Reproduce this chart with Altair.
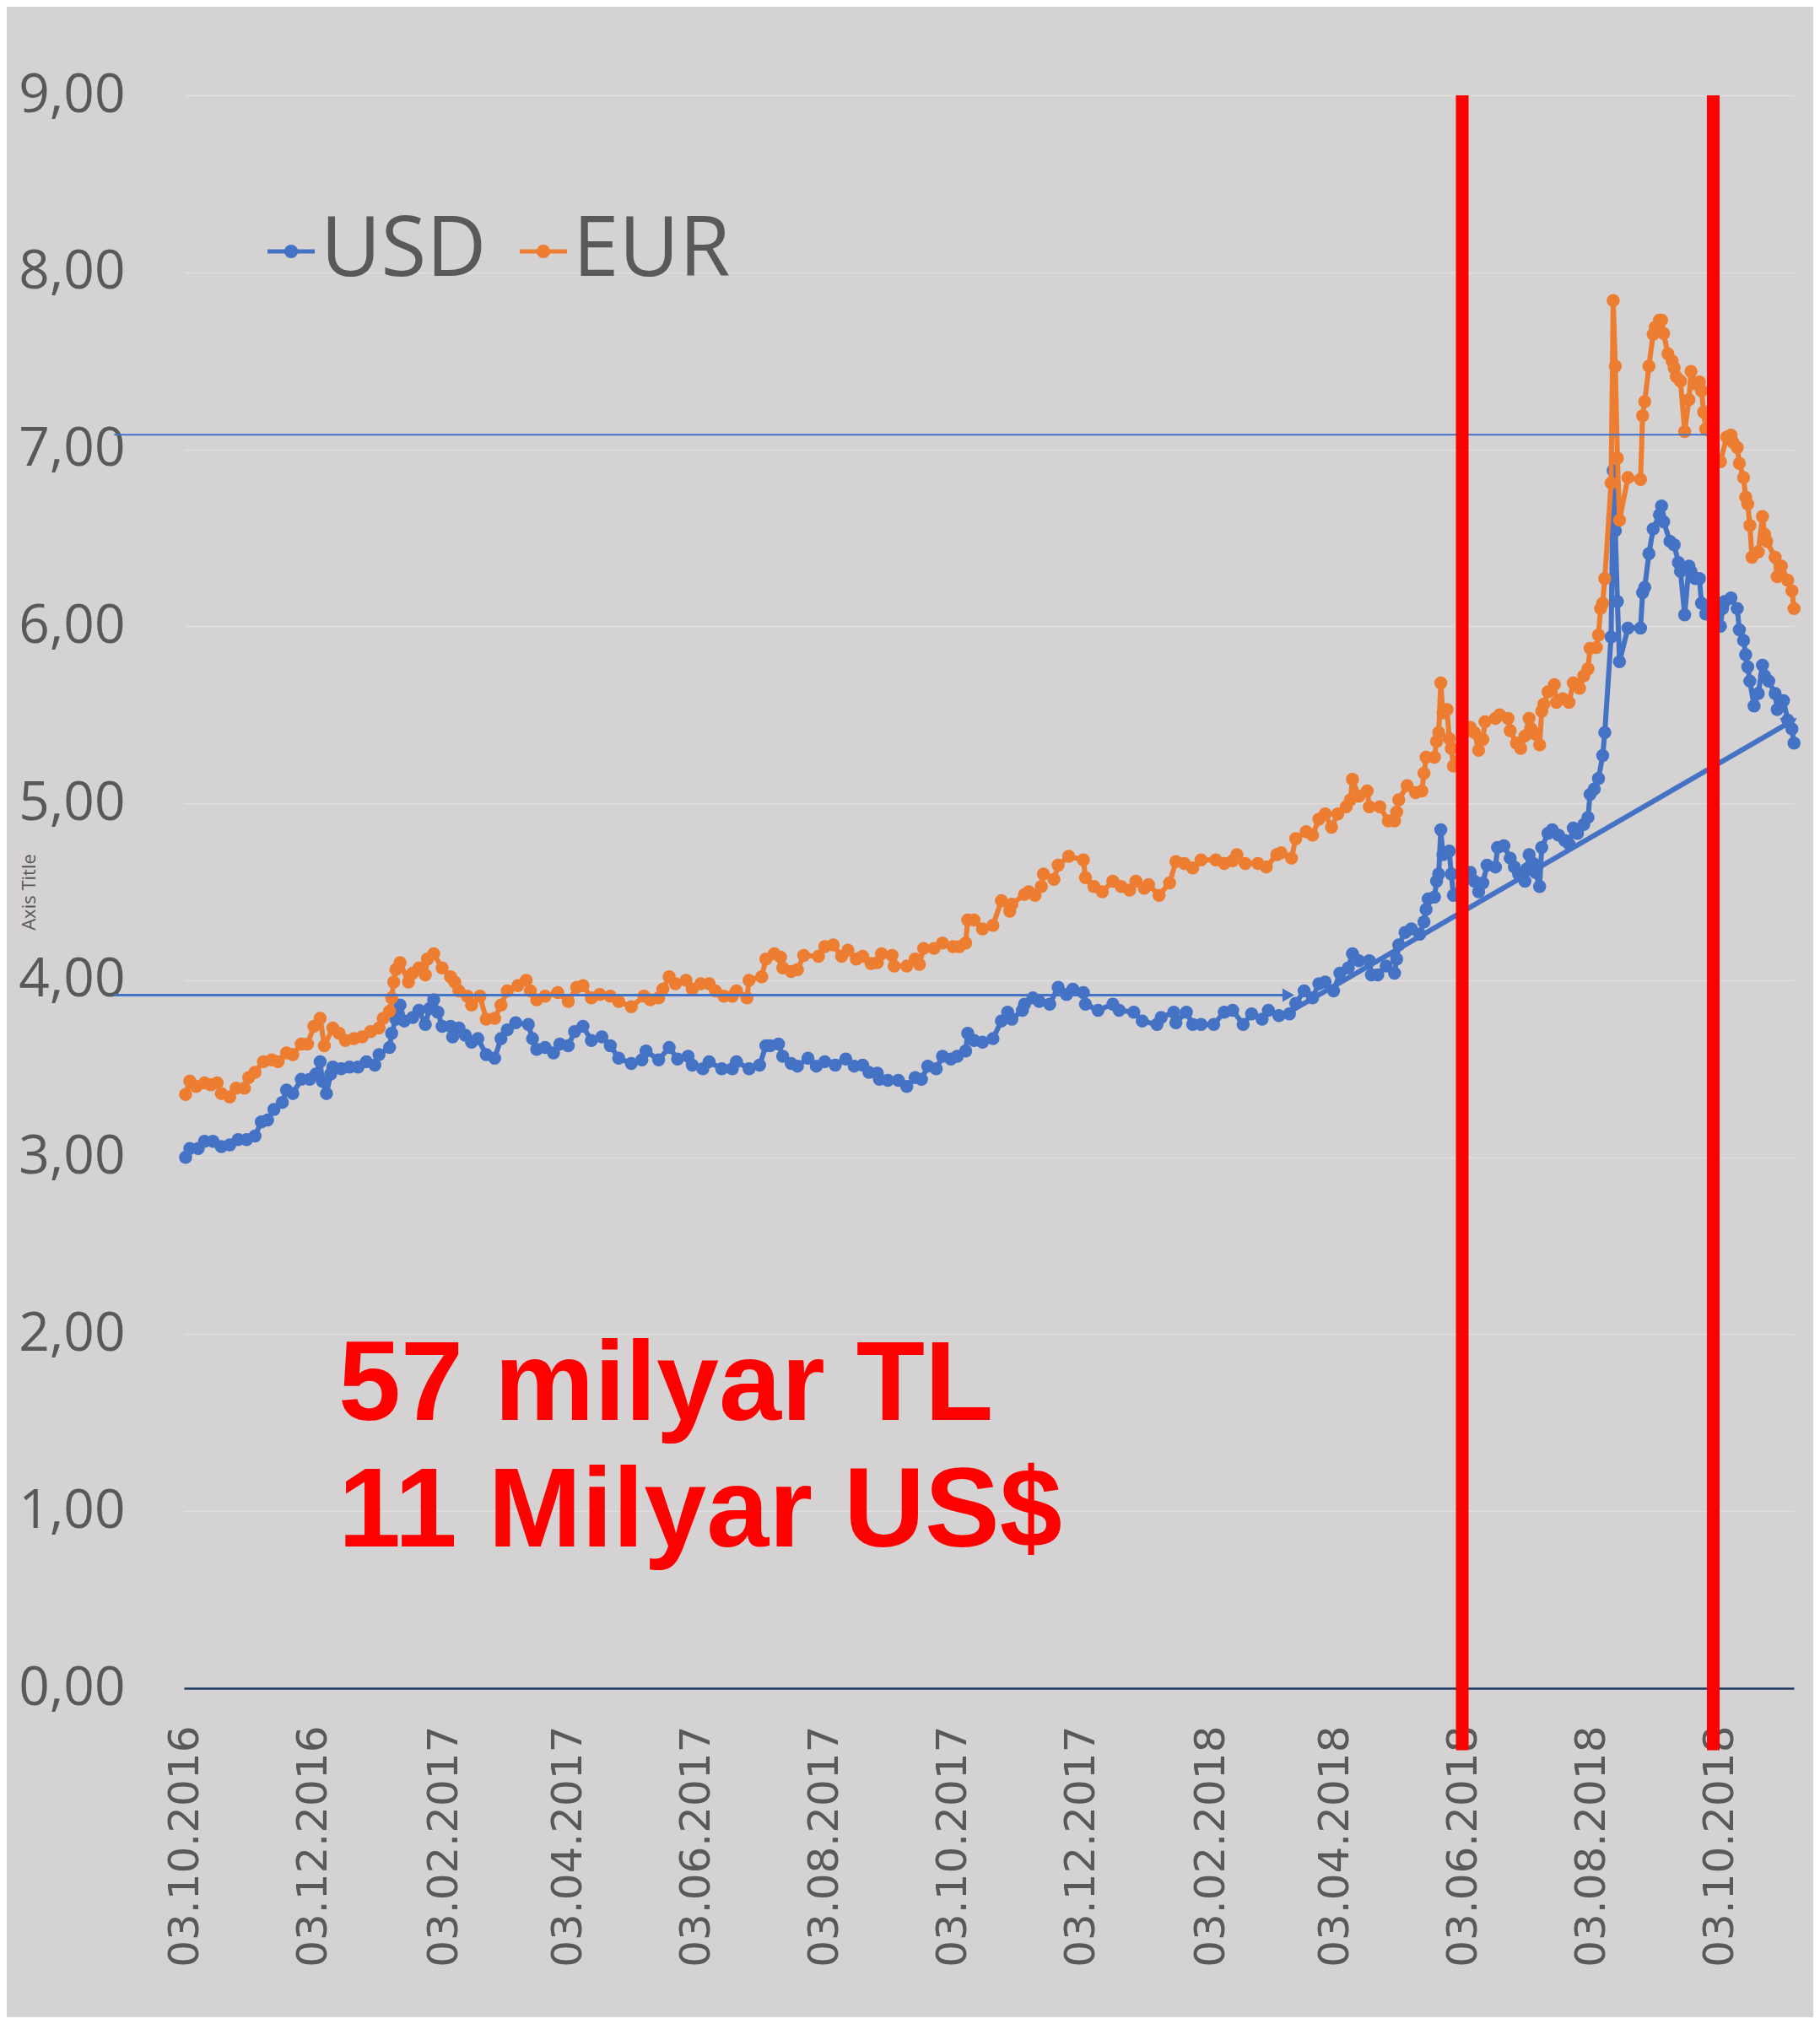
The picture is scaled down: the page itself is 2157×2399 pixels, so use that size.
import altair as alt
import pandas as pd

START = pd.Timestamp("2016-10-03")

# ---- data (day offset from 03.10.2016, rate) ----
usd_days = [0, 2, 6, 9, 13, 17, 21, 25, 29, 33, 36, 39, 42, 46, 48, 51, 55, 59, 62, 64, 65, 67, 69, 70,
            74, 78, 82, 86, 90, 92, 97, 98, 100, 102, 104, 108, 111, 114, 116, 118, 120, 122, 126, 127,
            130, 133, 136, 139, 143, 147, 150, 153, 157, 163, 165, 167, 171, 175, 178, 182, 185, 189,
            193, 198, 202, 206, 212, 217, 219, 225, 230, 234, 239, 241, 246, 249, 255, 260, 262, 268,
            273, 276, 278, 282, 284, 288, 291, 296, 300, 304, 309, 314, 318, 322, 325, 329, 330, 334,
            339, 343, 347, 350, 353, 357, 360, 364, 367, 371, 372, 375, 379, 384, 388, 391, 393, 398,
            399, 403, 406, 411, 415, 419, 422, 427, 428, 434, 441, 444, 451, 455, 462, 464, 470, 471,
            476, 479, 483, 489, 494, 498, 503, 507, 512, 515, 520, 525, 528, 532, 536, 539, 542, 546,
            549, 553, 555, 558, 563, 564, 567, 571, 575, 576, 577, 580, 583, 587, 589, 590, 591, 594,
            595, 596, 597, 598, 601, 602, 603, 611, 613, 615, 617, 619, 623, 624, 627, 630, 632, 634,
            637, 638, 639, 641, 642, 644, 645, 648, 650, 653, 656, 658, 660, 662, 665, 667, 668, 670,
            672, 674, 675, 678, 679, 680, 681, 682, 686, 692, 693, 694, 696, 698, 701, 702, 703, 706,
            708, 710, 711, 713, 715, 716, 718, 720, 721, 723, 730, 731, 732, 735, 738, 739, 741, 742,
            743, 744, 746, 748, 750, 751, 753, 756, 757, 760, 762, 764, 765]
usd_vals = [3.00, 3.05, 3.05, 3.09, 3.09, 3.06, 3.07, 3.10, 3.10, 3.12, 3.20, 3.21, 3.27, 3.31, 3.38, 3.36,
            3.44, 3.44, 3.47, 3.54, 3.43, 3.36, 3.47, 3.51, 3.50, 3.51, 3.51, 3.54, 3.52, 3.58, 3.62, 3.70,
            3.78, 3.86, 3.77, 3.79, 3.83, 3.75, 3.84, 3.89, 3.82, 3.74, 3.74, 3.68, 3.73, 3.69, 3.65, 3.67,
            3.58, 3.56, 3.67, 3.72, 3.76, 3.75, 3.67, 3.61, 3.62, 3.59, 3.64, 3.63, 3.71, 3.74, 3.66, 3.68,
            3.63, 3.56, 3.53, 3.55, 3.60, 3.55, 3.62, 3.555, 3.57, 3.52, 3.50, 3.54, 3.50, 3.50, 3.54, 3.50,
            3.52, 3.63, 3.63, 3.64, 3.57, 3.53, 3.515, 3.56, 3.515, 3.54, 3.52, 3.555, 3.515, 3.52, 3.48,
            3.475, 3.44, 3.435, 3.435, 3.40, 3.45, 3.44, 3.515, 3.50, 3.57, 3.555, 3.57, 3.60, 3.70, 3.66,
            3.65, 3.67, 3.77, 3.82, 3.78, 3.83, 3.865, 3.90, 3.88, 3.865, 3.96, 3.92, 3.95, 3.93, 3.865,
            3.83, 3.865, 3.83, 3.82, 3.77, 3.75, 3.79, 3.82, 3.76, 3.82, 3.75, 3.75, 3.75, 3.82, 3.83, 3.75,
            3.81, 3.78, 3.83, 3.80, 3.81, 3.87, 3.94, 3.90, 3.98, 3.99, 3.94, 4.04, 4.07, 4.15, 4.11, 4.11,
            4.03, 4.03, 4.08, 4.04, 4.12, 4.20, 4.27, 4.29, 4.26, 4.33, 4.40, 4.46, 4.47, 4.56, 4.60, 4.85,
            4.71, 4.73, 4.60, 4.48, 4.61, 4.56, 4.50, 4.55, 4.65, 4.64, 4.75, 4.76, 4.69, 4.64, 4.60, 4.56,
            4.63, 4.71, 4.66, 4.61, 4.53, 4.75, 4.83, 4.85, 4.82, 4.79, 4.77, 4.86, 4.83, 4.88, 4.92, 5.05,
            5.08, 5.14, 5.27, 5.40, 5.94, 6.88, 6.54, 6.14, 5.80, 5.99, 5.99, 6.19, 6.22, 6.41, 6.55, 6.63,
            6.68, 6.59, 6.48, 6.46, 6.36, 6.31, 6.065, 6.34, 6.31, 6.27, 6.27, 6.13, 6.07, 6.00, 6.10, 6.14,
            6.16, 6.10, 5.98, 5.92, 5.84, 5.77, 5.69, 5.55, 5.62, 5.78, 5.72, 5.69, 5.62, 5.53, 5.58, 5.47,
            5.42, 5.34]

eur_days = [0, 2, 5, 9, 12, 15, 17, 21, 24, 28, 30, 33, 37, 41, 44, 48, 51, 55, 58, 61, 64, 66, 70, 73,
            76, 80, 84, 88, 92, 94, 97, 98, 99, 100, 102, 106, 108, 111, 114, 115, 118, 122, 126, 128,
            130, 134, 136, 140, 143, 147, 150, 153, 158, 162, 164, 167, 171, 177, 182, 186, 189, 193,
            197, 202, 206, 212, 218, 221, 225, 227, 230, 233, 238, 241, 245, 249, 252, 256, 260, 262,
            267, 268, 274, 276, 280, 283, 284, 288, 291, 294, 301, 304, 308, 312, 315, 319, 322, 326,
            329, 331, 336, 337, 343, 347, 349, 351, 356, 360, 365, 368, 371, 372, 375, 379, 384, 388,
            392, 393, 399, 401, 404, 407, 408, 413, 415, 420, 427, 428, 432, 436, 441, 445, 449, 452,
            456, 458, 463, 468, 471, 475, 479, 483, 490, 494, 498, 500, 504, 510, 514, 519, 521, 526,
            528, 533, 536, 539, 542, 545, 548, 552, 554, 555, 558, 562, 563, 568, 572, 575, 576, 577,
            581, 585, 588, 589, 590, 594, 595, 596, 597, 598, 600, 601, 602, 603, 611, 613, 615, 617,
            618, 623, 625, 629, 630, 633, 635, 637, 639, 640, 642, 644, 645, 646, 648, 651, 652, 655,
            658, 660, 663, 665, 667, 668, 671, 672, 673, 674, 675, 678, 679, 680, 681, 682, 686, 692,
            693, 694, 696, 698, 699, 701, 702, 703, 705, 707, 708, 709, 711, 713, 715, 716, 718, 720,
            721, 722, 723, 730, 733, 735, 736, 738, 739, 741, 742, 743, 744, 745, 748, 750, 751, 752,
            756, 757, 759, 762, 764, 765]
eur_vals = [3.355, 3.43, 3.40, 3.42, 3.41, 3.42, 3.36, 3.34, 3.39, 3.39, 3.45, 3.48, 3.54, 3.55, 3.54,
            3.59, 3.58, 3.64, 3.64, 3.74, 3.785, 3.63, 3.73, 3.70, 3.66, 3.67, 3.68, 3.71, 3.73, 3.785,
            3.825, 3.90, 3.99, 4.06, 4.10, 3.99, 4.04, 4.07, 4.03, 4.12, 4.15, 4.07, 4.02, 3.99, 3.94,
            3.91, 3.86, 3.91, 3.78, 3.785, 3.86, 3.94, 3.97, 4.00, 3.94, 3.89, 3.91, 3.93, 3.88, 3.96,
            3.97, 3.90, 3.92, 3.91, 3.88, 3.85, 3.91, 3.89, 3.90, 3.95, 4.02, 3.98, 4.00, 3.95, 3.98,
            3.98, 3.94, 3.91, 3.91, 3.94, 3.90, 4.00, 4.02, 4.12, 4.15, 4.13, 4.07, 4.05, 4.06, 4.14,
            4.135, 4.19, 4.20, 4.135, 4.17, 4.12, 4.135, 4.095, 4.10, 4.15, 4.14, 4.08, 4.08, 4.12, 4.09,
            4.18, 4.18, 4.21, 4.19, 4.19, 4.21, 4.34, 4.34, 4.29, 4.31, 4.45, 4.39, 4.43, 4.485, 4.50,
            4.48, 4.53, 4.60, 4.57, 4.65, 4.70, 4.68, 4.58, 4.53, 4.50, 4.56, 4.53, 4.51, 4.56, 4.52,
            4.54, 4.48, 4.55, 4.67, 4.66, 4.635, 4.68, 4.68, 4.66, 4.675, 4.71, 4.66, 4.66, 4.64, 4.71,
            4.72, 4.69, 4.80, 4.84, 4.82, 4.91, 4.94, 4.865, 4.94, 4.98, 5.02, 5.135, 5.04, 5.07, 4.98,
            4.98, 4.90, 4.90, 4.95, 5.02, 5.10, 5.06, 5.07, 5.17, 5.26, 5.26, 5.35, 5.40, 5.68, 5.51,
            5.53, 5.365, 5.31, 5.21, 5.43, 5.40, 5.30, 5.36, 5.46, 5.48, 5.50, 5.48, 5.41, 5.34, 5.31,
            5.38, 5.48, 5.42, 5.39, 5.33, 5.52, 5.56, 5.63, 5.67, 5.57, 5.59, 5.57, 5.68, 5.65, 5.72,
            5.76, 5.875, 5.88, 5.95, 6.10, 6.13, 6.27, 6.81, 7.84, 7.47, 6.95, 6.60, 6.84, 6.83, 7.19,
            7.27, 7.47, 7.65, 7.69, 7.73, 7.73, 7.655, 7.54, 7.50, 7.46, 7.41, 7.385, 7.10, 7.28, 7.44,
            7.37, 7.38, 7.33, 7.21, 7.115, 6.93, 7.07, 7.08, 7.04, 7.01, 6.92, 6.84, 6.73, 6.69, 6.57,
            6.39, 6.42, 6.62, 6.52, 6.48, 6.39, 6.28, 6.34, 6.26, 6.20, 6.10]

series_names = ["USD", "EUR"]
series_colors = ["#4472C4", "#ED7D31"]

tick_dates = [(2016, 10), (2016, 12), (2017, 2), (2017, 4), (2017, 6), (2017, 8), (2017, 10),
              (2017, 12), (2018, 2), (2018, 4), (2018, 6), (2018, 8), (2018, 10)]
y_ticks = [0, 1, 2, 3, 4, 5, 6, 7, 8, 9]

# hand-drawn annotation shapes, in data units (day offset, value)
low_line = {"d1": -34, "d2": 524.5, "v": 3.916}
high_line = {"d1": -34, "d2": 728.4, "v": 7.083}
trend_line = {"d1": 524.5, "v1": 3.818, "d2": 763.3, "v2": 5.46}
red_lines_days = [607.2, 726.6]
red_line_span = [9.0, -0.35]
annotation_text = ["57 milyar TL", "11 Milyar US$"]


def day(d):
    return START + pd.Timedelta(days=d)


def frame(days, vals, name):
    return pd.DataFrame({"date": [day(d) for d in days], "value": vals, "series": name})


usd = frame(usd_days, usd_vals, "USD")
eur = frame(eur_days, eur_vals, "EUR")

GRAY = "#595959"

x_scale = alt.Scale(domain=[alt.DateTime(year=2016, month=10, date=2, hours=5),
                            alt.DateTime(year=2018, month=11, date=6, hours=22)])
y_scale = alt.Scale(domain=[0, 9], nice=False)

x_axis = alt.Axis(values=[alt.DateTime(year=y, month=m, date=3) for y, m in tick_dates],
                  format="%d.%m.%Y", labelAngle=-90, labelFont="DejaVu Sans", labelFontSize=50,
                  labelColor=GRAY, ticks=False, grid=False, labelPadding=44, labelLimit=0,
                  domainColor="#1F3864", domainWidth=2.5, title=None, labelOverlap=False)
y_axis = alt.Axis(values=y_ticks, labelExpr="replace(format(datum.value, '.2f'), '.', ',')",
                  labelFont="Open Sans", labelFontSize=64, labelColor=GRAY, ticks=False,
                  domain=False, labelPadding=70, gridColor="#E0DEDF", gridWidth=1.5,
                  title="Axis Title", titleFont="Open Sans", titleFontSize=22,
                  titleFontWeight="normal", titleColor=GRAY, titleAngle=-90,
                  titleX=-184, titleY=944, titleAlign="center", titleBaseline="middle")

# line-with-dot symbol, drawn a little right of its slot so it sits close to the label
legend_symbol = ("M-0.5,0L1.5,0M0.7,0A0.2,0.2,0,1,1,0.3,0A0.2,0.2,0,1,1,0.7,0"
                 "M0.58,0A0.08,0.08,0,1,1,0.42,0A0.08,0.08,0,1,1,0.58,0")
color = alt.Color("series:N", scale=alt.Scale(domain=series_names, range=series_colors),
                  legend=alt.Legend(orient="none", legendX=64, legendY=136, direction="horizontal",
                                    title=None, labelFontSize=98, labelFont="Open Sans",
                                    labelColor=GRAY, symbolType=legend_symbol, symbolSize=3136,
                                    symbolStrokeWidth=5, labelOffset=0, columnPadding=4,
                                    padding=0, labelLimit=0, symbolOpacity=1))


def series_layers(df):
    base = alt.Chart(df).encode(x=alt.X("date:T", scale=x_scale, axis=x_axis),
                                y=alt.Y("value:Q", scale=y_scale, axis=y_axis),
                                color=color)
    line = base.mark_line(strokeWidth=6, strokeJoin="round")
    pts = base.mark_circle(size=240, opacity=1)
    return [line, pts]


seg = pd.DataFrame({
    "d1": [day(low_line["d1"]), day(high_line["d1"])],
    "d2": [day(low_line["d2"]), day(high_line["d2"])],
    "v": [low_line["v"], high_line["v"]],
    "w": ["low", "high"],
})
low = alt.Chart(seg[seg.w == "low"]).mark_rule(color="#4472C4", strokeWidth=3).encode(
    x="d1:T", x2="d2:T", y="v:Q")
high = alt.Chart(seg[seg.w == "high"]).mark_rule(color="#4472C4", strokeWidth=2).encode(
    x="d1:T", x2="d2:T", y="v:Q")
low_head = alt.Chart(seg[seg.w == "low"]).mark_point(
    shape="triangle-right", filled=True, color="#4472C4", size=260, opacity=1).encode(
    x="d2:T", y="v:Q")

tr = pd.DataFrame({"d1": [day(trend_line["d1"])], "d2": [day(trend_line["d2"])],
                   "v1": [trend_line["v1"]], "v2": [trend_line["v2"]]})
trend = alt.Chart(tr).mark_rule(color="#4472C4", strokeWidth=6).encode(
    x="d1:T", x2="d2:T", y="v1:Q", y2="v2:Q")
trend_head = alt.Chart(tr).mark_point(
    shape="triangle-right", filled=True, color="#4472C4", size=420, opacity=1, angle=330).encode(
    x="d2:T", y="v2:Q")

red = pd.DataFrame({"d": [day(d) for d in red_lines_days],
                    "top": red_line_span[0], "bottom": red_line_span[1]})
red_rules = alt.Chart(red).mark_rule(color="#FF0000", strokeWidth=15).encode(
    x="d:T", y="top:Q", y2="bottom:Q")

texts = []
for i, (t, yy) in enumerate(zip(annotation_text, [1570, 1720])):
    texts.append(alt.Chart(pd.DataFrame({"label": [t]})).mark_text(
        font="Liberation Sans", fontWeight="bold", fontSize=133, color="#FF0000",
        align="left", baseline="alphabetic").encode(
        x=alt.value(183), y=alt.value(yy), text="label:N"))

chart = alt.layer(
    *series_layers(usd), *series_layers(eur),
    low, high, low_head, trend, trend_head, *texts, red_rules
).properties(
    width=1908, height=1888,
    padding={"left": 210, "top": 105, "right": 23, "bottom": 390},
    autosize=alt.AutoSizeParams(type="none"),
    background="#D4D2D3",
).configure_view(stroke=None)

chart.save("out.html", embed_options={"renderer": "svg", "actions": False})
